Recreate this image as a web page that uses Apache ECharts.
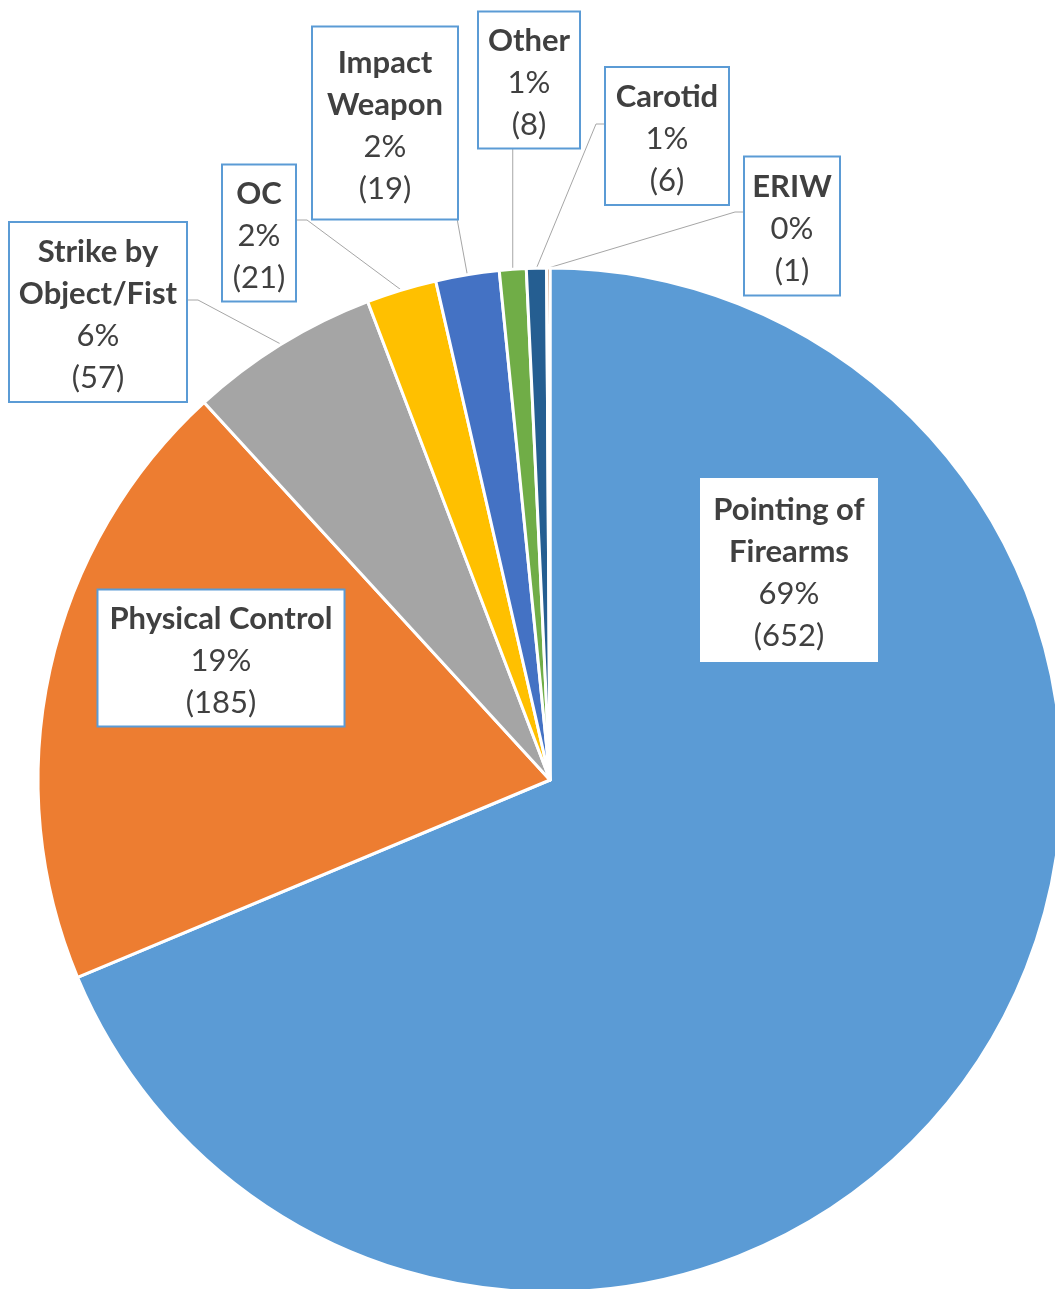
<!DOCTYPE html>
<html><head><meta charset="utf-8">
<script src="https://cdn.jsdelivr.net/npm/echarts@6/dist/echarts.min.js"></script>
<style>html,body{margin:0;padding:0;background:#fff}#c{width:1055px;height:1289px}</style>
</head><body><div id="c"></div>
<script>
const categories = ['Pointing of\nFirearms','Physical Control','Strike by\nObject/Fist','OC','Impact\nWeapon','Other','Carotid','ERIW'];
const counts = [652,185,57,21,19,8,6,1];
const colors = ['#5B9BD5','#ED7D31','#A5A5A5','#FFC000','#4472C4','#70AD47','#255E91','#9E480E'];

// label box layout (centre x, centre y, box width, box height, border, leader anchor)
const boxes = [
  {x:789,y:570,w:178,h:184,border:false,anchor:null},
  {x:221,y:658,w:245,h:135,border:true,anchor:null},
  {x:98,y:312,w:176,h:178,border:true,anchor:{side:'right',d:-12,stub:12}},
  {x:259,y:233,w:72,h:135,border:true,anchor:{side:'right',d:-13,stub:12}},
  {x:385,y:123,w:144,h:191,border:true,anchor:{side:'bottom',d:72,stub:0}},
  {x:529,y:80,w:100,h:135,border:true,anchor:{side:'bottomTarget'}},
  {x:667,y:136,w:122,h:136,border:true,anchor:{side:'left',d:-12,stub:10}},
  {x:792,y:226,w:94,h:137,border:true,anchor:{side:'left',d:-14,stub:10}}
];
const LH = 42;
const FS = 31;
const SHIFT = 3;
const FONT = 'Lato, "Open Sans", sans-serif';
const total = counts.reduce((a, b) => a + b, 0);

const data = categories.map((name, i) => {
  const b = boxes[i];
  const lines = name.split('\n').length + 2;
  const pv = Math.max(0, (b.h - lines * LH) / 2);
  return {
    name: name,
    value: counts[i],
    itemStyle: {color: colors[i]},
    label: {
      width: b.w - 4,
      padding: [pv + SHIFT, 2, Math.max(0, pv - SHIFT), 2],
      borderWidth: b.border ? 2 : 0,
      borderColor: '#5B9BD5'
    },
    labelLine: {show: !!b.anchor}
  };
});

const chart = echarts.init(document.getElementById('c'), null, {renderer: 'canvas'});
chart.setOption({
  animation: false,
  backgroundColor: '#fff',
  series: [{
    type: 'pie',
    center: [550, 780],
    radius: 512,
    startAngle: 90,
    clockwise: true,
    avoidLabelOverlap: false,
    data: data,
    itemStyle: {borderColor: '#fff', borderWidth: 3},
    label: {
      show: true,
      position: 'outside',
      backgroundColor: '#fff',
      color: '#404040',
      fontFamily: FONT,
      formatter: function (p) {
        return '{n|' + p.name + '}\n{v|' + Math.round(p.value / total * 100) + '%}\n{v|(' + p.value + ')}';
      },
      rich: {
        n: {fontFamily: FONT, fontSize: FS, fontWeight: 'bold', lineHeight: LH, color: '#404040', align: 'center'},
        v: {fontFamily: FONT, fontSize: FS, lineHeight: LH, color: '#404040', align: 'center'}
      }
    },
    labelLine: {lineStyle: {color: '#A6A6A6', width: 1}},
    labelLayout: function (p) {
      const b = boxes[p.dataIndex];
      const res = {x: b.x, y: b.y, align: 'center', verticalAlign: 'middle'};
      const a = b.anchor;
      if (a && p.labelLinePoints && p.labelLinePoints.length) {
        const t = p.labelLinePoints[0];
        let pts;
        if (a.side === 'right') {
          const ax = b.x + b.w / 2, ay = b.y + a.d;
          pts = [[ax, ay], [ax + a.stub, ay], t];
        } else if (a.side === 'left') {
          const ax = b.x - b.w / 2, ay = b.y + a.d;
          pts = [[ax, ay], [ax - a.stub, ay], t];
        } else if (a.side === 'bottom') {
          const ax = b.x + a.d, ay = b.y + b.h / 2;
          pts = [[ax, ay], [ax, ay], t];
        } else {
          const ay = b.y + b.h / 2;
          pts = [[t[0], ay], [t[0], ay], t];
        }
        res.labelLinePoints = pts;
      }
      return res;
    }
  }]
});
</script>
</body></html>
